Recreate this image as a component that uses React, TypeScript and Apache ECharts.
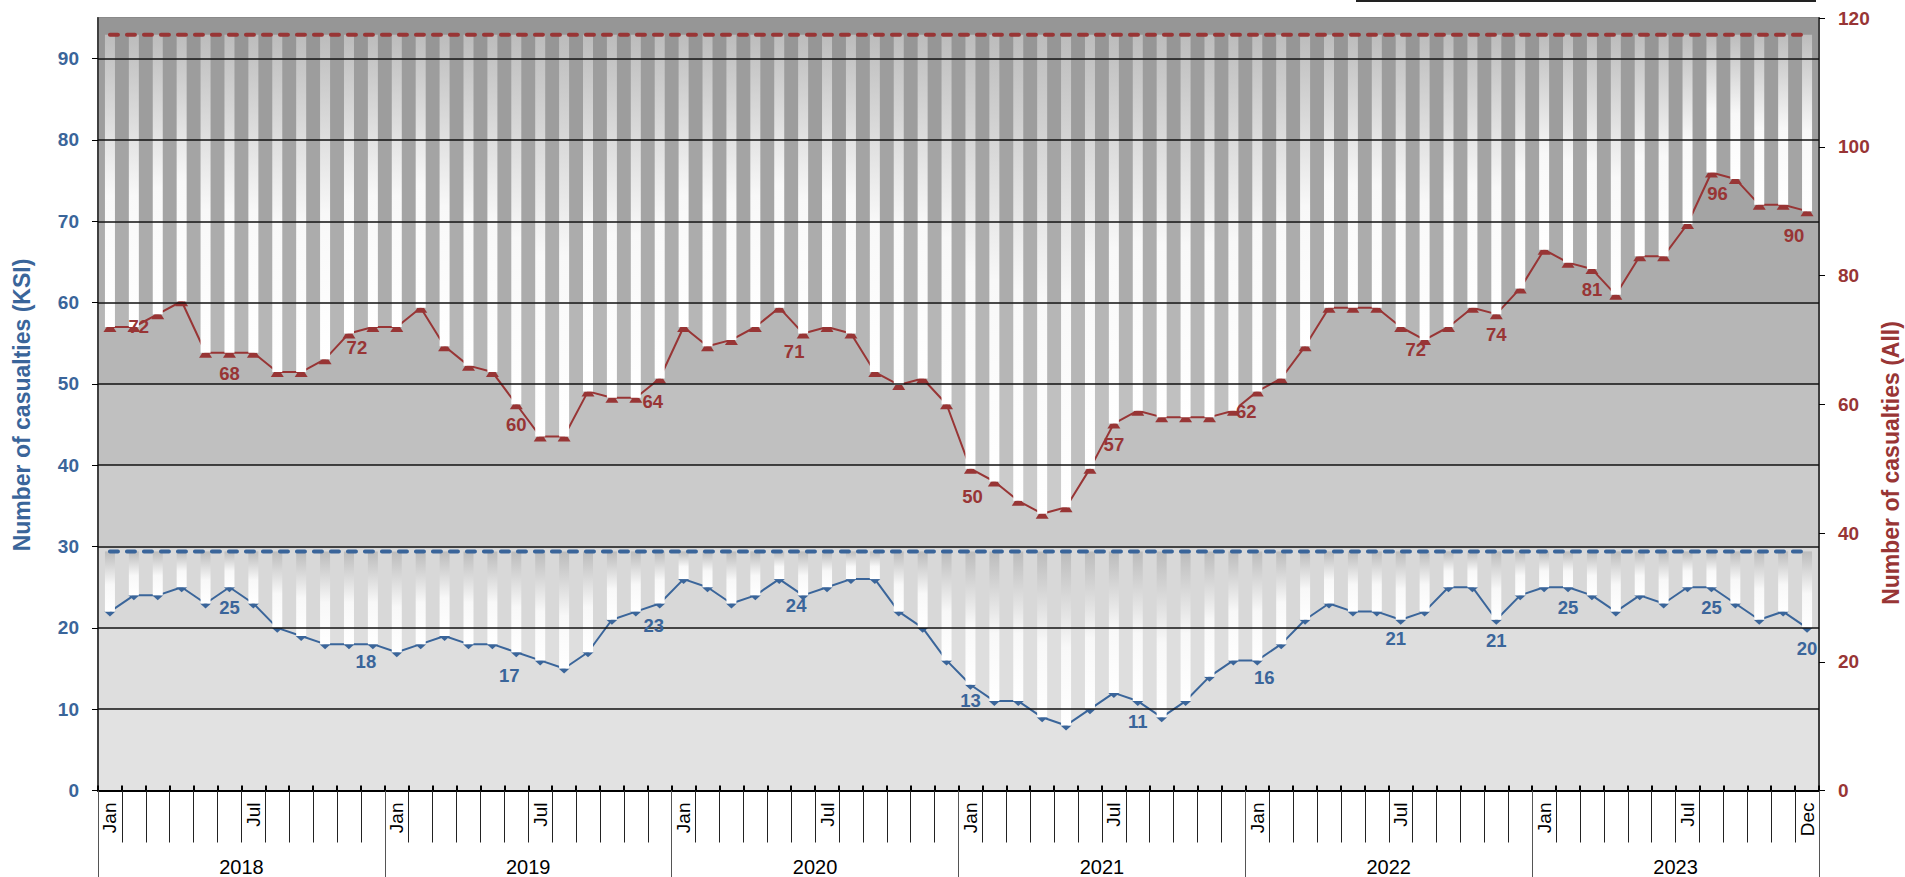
import React, { useEffect, useRef } from "react";
import * as echarts from "echarts";

const YEARS = ["2018", "2019", "2020", "2021", "2022", "2023"];
const MONTHS = ["Jan", "Feb", "Mar", "Apr", "May", "Jun", "Jul", "Aug", "Sep", "Oct", "Nov", "Dec"];
const SHOWN_MONTHS = ["Jan", "Jul"];

// Number of casualties (All) - right axis
const ALL_CASUALTIES = [
  72, 72, 74, 76, 68, 68, 68, 65, 65, 67, 71, 72,
  72, 75, 69, 66, 65, 60, 55, 55, 62, 61, 61, 64,
  72, 69, 70, 72, 75, 71, 72, 71, 65, 63, 64, 60,
  50, 48, 45, 43, 44, 50, 57, 59, 58, 58, 58, 59,
  62, 64, 69, 75, 75, 75, 72, 70, 72, 75, 74, 78,
  84, 82, 81, 77, 83, 83, 88, 96, 95, 91, 91, 90,
];

// Number of casualties (KSI) - left axis
const KSI_CASUALTIES = [
  22, 24, 24, 25, 23, 25, 23, 20, 19, 18, 18, 18,
  17, 18, 19, 18, 18, 17, 16, 15, 17, 21, 22, 23,
  26, 25, 23, 24, 26, 24, 25, 26, 26, 22, 20, 16,
  13, 11, 11, 9, 8, 10, 12, 11, 9, 11, 14, 16,
  16, 18, 21, 23, 22, 22, 21, 22, 25, 25, 21, 24,
  25, 25, 24, 22, 24, 23, 25, 25, 23, 21, 22, 20,
];

// months (index) whose value is written on the chart
const ALL_LABELLED = [1, 5, 11, 17, 23, 29, 36, 42, 48, 54, 58, 62, 67, 71];
const KSI_LABELLED = [5, 11, 17, 23, 29, 36, 43, 48, 54, 58, 61, 67, 71];

// reference levels the hanging bars drop from
const ALL_TOP = 117.4;
const KSI_TOP = 29.4;

const LEFT_MAX = 95;
const LEFT_STEP = 10;
const RIGHT_MAX = 120;
const RIGHT_STEP = 20;

const BLUE = "#3A659A";
const RED = "#983535";
const FONT = "'Liberation Sans', Arial, sans-serif";

const BAND_COLORS = [
  "#e2e2e2", "#dedede", "#d8d8d8", "#cbcbcb", "#c0c0c0",
  "#b6b6b6", "#acacac", "#a4a4a4", "#9d9d9d", "#969696",
];

// small hand placement of some value labels (pixels), as in the original
const ALL_NUDGE: Record<number, number[]> = {
  1: [5, -21], 11: [-16, 0], 23: [-7, 2], 29: [-9, -2], 36: [2, 7],
  48: [-11, 0], 54: [15, 2], 67: [6, 0], 71: [-13, 4],
};
const KSI_NUDGE: Record<number, number[]> = {
  11: [-7, -3], 17: [-7, 3], 23: [-6, 2], 29: [-7, -10], 36: [0, -5],
  48: [7, -3], 54: [-5, -2],
};

export default function App() {
  const ref = useRef<HTMLDivElement>(null);

  useEffect(() => {
    if (!ref.current) return;
    document.body.style.margin = "0";
    const chart = echarts.init(ref.current, undefined, { renderer: "svg" });

    const categories = YEARS.flatMap((y) => MONTHS.map((m) => `${m} ${y}`));
    const last = categories[categories.length - 1];

    const barGrad = () =>
      new echarts.graphic.LinearGradient(0, 0, 0, 1, [
        { offset: 0, color: "#bcbcbc" },
        { offset: 0.55, color: "#f8f8f8" },
        { offset: 1, color: "#ffffff" },
      ]);

    const labelSeries = (
      values: number[],
      labelled: number[],
      nudge: Record<number, number[]>,
      yAxisIndex: number,
      color: string
    ) => ({
      type: "scatter",
      yAxisIndex,
      symbol: "circle",
      symbolSize: 1,
      silent: true,
      itemStyle: { color: "rgba(0,0,0,0)", opacity: 1 },
      label: {
        show: true,
        position: "bottom",
        distance: 10.5,
        color,
        opacity: 1,
        fontSize: 18.5,
        fontWeight: "bold",
        fontFamily: FONT,
        formatter: (p: any) => String(p.value[1]),
      },
      emphasis: { disabled: true },
      data: labelled.map((i) => ({
        value: [i, values[i]],
        label: { offset: nudge[i] || [0, 0] },
      })),
      z: 8,
    });

    const option: any = {
      animation: false,
      grid: {
        left: 98,
        right: 86,
        top: 18,
        bottom: 86.5,
        show: true,
        borderColor: "#8a8a8a",
        borderWidth: 2,
        backgroundColor: "transparent",
      },
      graphic: [
        { type: "line", shape: { x1: 1356, y1: 1, x2: 1816, y2: 1 }, style: { stroke: "#222", lineWidth: 2 } },
        {
          type: "text",
          x: 22,
          y: 405,
          rotation: Math.PI / 2,
          style: {
            text: "Number of casualties (KSI)",
            fill: BLUE,
            fontSize: 23,
            fontWeight: "bold",
            fontFamily: FONT,
            align: "center",
            verticalAlign: "middle",
          },
        },
        {
          type: "text",
          x: 1891,
          y: 463,
          rotation: Math.PI / 2,
          style: {
            text: "Number of casualties (All)",
            fill: RED,
            fontSize: 23,
            fontWeight: "bold",
            fontFamily: FONT,
            align: "center",
            verticalAlign: "middle",
          },
        },
      ],
      xAxis: [
        {
          type: "category",
          data: categories,
          position: "bottom",
          boundaryGap: true,
          axisLine: { show: true, lineStyle: { color: "#000", width: 2 } },
          axisTick: { show: true, interval: 0, length: 52, lineStyle: { color: "#222", width: 1 } },
          axisLabel: {
            interval: 0,
            rotate: 90,
            margin: 12,
            fontSize: 19,
            color: "#000",
            fontFamily: FONT,
            formatter: (v: string) => {
              const m = v.split(" ")[0];
              if (SHOWN_MONTHS.includes(m) || v === last) return m;
              return "";
            },
          },
          splitLine: { show: false },
        },
        {
          type: "category",
          data: YEARS,
          position: "bottom",
          boundaryGap: true,
          axisLine: { show: false },
          axisTick: { show: true, interval: 0, length: 90, lineStyle: { color: "#555", width: 1 } },
          axisLabel: { interval: 0, margin: 66, fontSize: 20, color: "#000", fontFamily: FONT },
          splitLine: { show: false },
        },
        {
          type: "category",
          data: categories,
          position: "bottom",
          boundaryGap: true,
          axisLine: { show: false },
          axisTick: { show: true, inside: true, interval: 0, length: 5, lineStyle: { color: "#000", width: 2 } },
          axisLabel: { show: false },
          splitLine: { show: false },
        },
      ],
      yAxis: [
        {
          type: "value",
          min: 0,
          max: LEFT_MAX,
          interval: LEFT_STEP,
          position: "left",
          axisLine: { show: true, lineStyle: { color: "#404040", width: 2 } },
          axisTick: { show: true, length: 6, lineStyle: { color: "#000", width: 1 } },
          axisLabel: {
            showMaxLabel: false,
            margin: 19,
            fontSize: 19,
            fontWeight: "bold",
            color: BLUE,
            fontFamily: FONT,
          },
          splitLine: { show: false },
          splitArea: { show: true, areaStyle: { color: BAND_COLORS } },
        },
        {
          type: "value",
          min: 0,
          max: RIGHT_MAX,
          interval: RIGHT_STEP,
          position: "right",
          axisLine: { show: true, lineStyle: { color: "#404040", width: 2 } },
          axisTick: { show: true, length: 6, lineStyle: { color: "#000", width: 1 } },
          axisLabel: { margin: 19, fontSize: 19, fontWeight: "bold", color: RED, fontFamily: FONT },
          splitLine: { show: false },
        },
        {
          // gridlines drawn over the hanging bars
          type: "value",
          min: 0,
          max: LEFT_MAX,
          interval: LEFT_STEP,
          position: "left",
          z: 6,
          axisLine: { show: false },
          axisTick: { show: false },
          axisLabel: { show: false },
          splitLine: { show: true, showMinLine: false, showMaxLine: false, lineStyle: { color: "#111", width: 1.5 } },
          splitArea: { show: false },
        },
      ],
      series: [
        {
          name: "allBase",
          type: "bar",
          yAxisIndex: 1,
          stack: "all",
          barWidth: 10,
          barGap: "-100%",
          silent: true,
          itemStyle: { color: "transparent" },
          data: ALL_CASUALTIES,
          z: 3,
        },
        {
          name: "allHang",
          type: "bar",
          yAxisIndex: 1,
          stack: "all",
          barWidth: 10,
          barGap: "-100%",
          silent: true,
          itemStyle: { color: barGrad() },
          data: ALL_CASUALTIES.map((v) => +(ALL_TOP - v).toFixed(2)),
          z: 3,
        },
        {
          name: "ksiBase",
          type: "bar",
          yAxisIndex: 0,
          stack: "ksi",
          barWidth: 10,
          barGap: "-100%",
          silent: true,
          itemStyle: { color: "transparent" },
          data: KSI_CASUALTIES,
          z: 3,
        },
        {
          name: "ksiHang",
          type: "bar",
          yAxisIndex: 0,
          stack: "ksi",
          barWidth: 10,
          barGap: "-100%",
          silent: true,
          itemStyle: { color: barGrad() },
          data: KSI_CASUALTIES.map((v) => +(KSI_TOP - v).toFixed(2)),
          z: 3,
        },
        {
          name: "Number of casualties (All)",
          type: "line",
          yAxisIndex: 1,
          symbol: "path://M3,0L9,0L12,5L0,5Z",
          symbolSize: [13, 5],
          symbolOffset: [0, 2.5],
          itemStyle: { color: RED },
          lineStyle: { color: RED, width: 2 },
          emphasis: { disabled: true },
          data: ALL_CASUALTIES,
          z: 2,
        },
        {
          name: "Number of casualties (KSI)",
          type: "line",
          yAxisIndex: 0,
          symbol: "path://M0,0L10,0L5,5Z",
          symbolSize: [11, 5],
          symbolOffset: [0, 2.5],
          itemStyle: { color: BLUE },
          lineStyle: { color: BLUE, width: 2 },
          emphasis: { disabled: true },
          data: KSI_CASUALTIES,
          z: 2,
        },
        {
          name: "allTop",
          type: "line",
          yAxisIndex: 1,
          symbol: "none",
          silent: true,
          lineStyle: { color: RED, width: 4, type: [8, 9], cap: "round" },
          data: categories.map(() => ALL_TOP),
          z: 7,
        },
        {
          name: "ksiTop",
          type: "line",
          yAxisIndex: 0,
          symbol: "none",
          silent: true,
          lineStyle: { color: BLUE, width: 4, type: [8, 9], cap: "round" },
          data: categories.map(() => KSI_TOP),
          z: 7,
        },
        labelSeries(ALL_CASUALTIES, ALL_LABELLED, ALL_NUDGE, 1, RED),
        labelSeries(KSI_CASUALTIES, KSI_LABELLED, KSI_NUDGE, 0, BLUE),
      ],
    };

    chart.setOption(option);
    return () => chart.dispose();
  }, []);

  return (
    <div
      ref={ref}
      style={{ position: "fixed", left: 0, top: 0, width: 1905, height: 877, background: "#fff" }}
    />
  );
}
